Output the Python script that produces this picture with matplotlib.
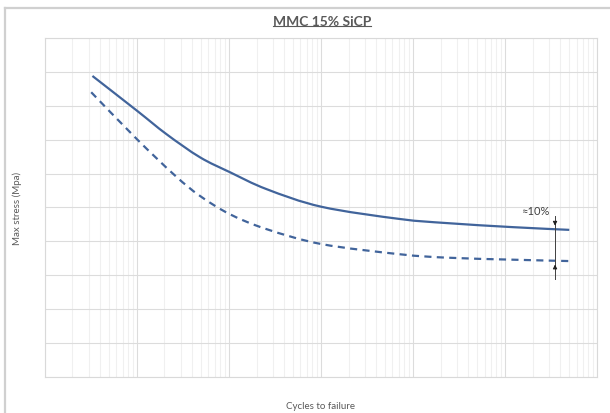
import numpy as np
import matplotlib.pyplot as plt
from matplotlib.lines import Line2D
from matplotlib.path import Path
from matplotlib.patches import PathPatch

plt.rcParams['font.family'] = ['Lato', 'DejaVu Sans']

# S-N curves (cycles, max stress)
cycles_solid = [33, 100, 211, 487, 1030, 2580, 10200, 72400, 233000, 1220000, 5000000]
stress_solid = [444, 393, 358, 324, 302, 277, 251, 233, 227, 221, 217]
cycles_dashed = [32, 100, 261, 487, 1030, 2580, 10200, 72400, 233000, 1220000, 4900000]
stress_dashed = [420, 351, 297, 267, 240, 218, 196, 181, 176, 173, 171]

# ~10% gap marker
gap_x = 3.5e6
gap_top, gap_bottom = 219, 170
gap_label = '\u224810%'

line_color = '#41649B'
text_color = '#595959'


def smooth_path(xs, ys):
    # Excel-style smoothed line: Catmull-Rom drawn as cubic Bezier segments (log x)
    lx = np.log10(xs)
    ys = np.asarray(ys, float)
    pts = np.column_stack([lx, ys])
    verts = [pts[0]]
    codes = [Path.MOVETO]
    for i in range(len(pts) - 1):
        p0 = pts[max(i - 1, 0)]
        p1, p2 = pts[i], pts[i + 1]
        p3 = pts[min(i + 2, len(pts) - 1)]
        c1 = p1 + (p2 - p0) / 6
        c2 = p2 - (p3 - p1) / 6
        verts += [c1, c2, p2]
        codes += [Path.CURVE4] * 3
    verts = np.array(verts)
    verts[:, 0] = 10 ** verts[:, 0]
    return Path(verts, codes)


fig = plt.figure(figsize=(6.1, 4.14), dpi=100)
ax = fig.add_axes([0.0733, 0.087, 0.9054, 0.8188])

ax.add_patch(PathPatch(smooth_path(cycles_solid, stress_solid), fill=False,
                       edgecolor=line_color, lw=1.6, capstyle='butt'))
ax.add_patch(PathPatch(smooth_path(cycles_dashed, stress_dashed), fill=False,
                       edgecolor=line_color, lw=1.6, linestyle=(0, (3.2, 2.4)), capstyle='butt'))

# gap dimension line with two arrow heads
ax.plot([gap_x, gap_x], [gap_top + 19, gap_bottom - 25], color='#404040', lw=0.7)
ax.annotate('', xy=(gap_x, gap_top), xytext=(gap_x, gap_top + 12),
            arrowprops=dict(arrowstyle='-|>', color='#202020', lw=0.7, mutation_scale=6))
ax.annotate('', xy=(gap_x, gap_bottom), xytext=(gap_x, gap_bottom - 12),
            arrowprops=dict(arrowstyle='-|>', color='#202020', lw=0.7, mutation_scale=6))
ax.text(2.15e6, 246, gap_label, ha='center', va='center', fontsize=8, color='#404040')

ax.set_xscale('log')
ax.set_xlim(1e1, 1e7)
ax.set_ylim(0, 500)
ax.set_yticks(np.arange(0, 501, 50))
ax.grid(True, which='major', color='#DCDCDC', lw=0.8)
ax.grid(True, which='minor', axis='x', color='#F0F0F0', lw=0.8)
ax.set_axisbelow(True)
ax.tick_params(which='both', length=0, labelbottom=False, labelleft=False)
for s in ax.spines.values():
    s.set_color('#D9D9D9')
    s.set_linewidth(0.8)

fig.text(0.0279, 0.497, 'Max stress (Mpa)', rotation=90, ha='center', va='center',
         fontsize=7, color=text_color)
fig.text(0.526, 0.019, 'Cycles to failure', ha='center', va='center', fontsize=7, color=text_color)
title = fig.text(0.528, 0.946, 'MMC 15% SiCP', ha='center', va='center', fontsize=10,
                 fontweight='bold', color=text_color)

# outer chart frame (partly cropped)
fig.add_artist(Line2D([0.0082, 0.0082], [0, 0.978], color='#D0D0D0', lw=1.6))
fig.add_artist(Line2D([0.0082, 1.0], [0.978, 0.978], color='#D0D0D0', lw=1.6))

# underline the title
fig.canvas.draw()
bb = title.get_window_extent().transformed(fig.transFigure.inverted())
fig.add_artist(Line2D([bb.x0, bb.x1], [bb.y0 + 0.004, bb.y0 + 0.004], color=text_color, lw=0.8))

fig.savefig('out.png', dpi=100)
